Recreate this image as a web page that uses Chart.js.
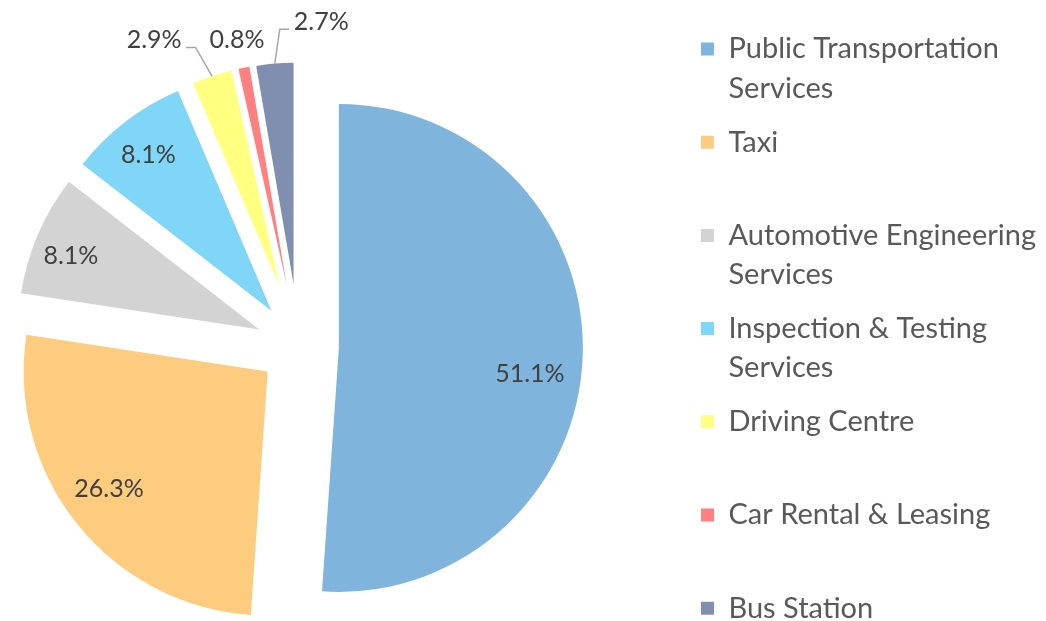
<!DOCTYPE html>
<html>
<head>
<meta charset="utf-8">
<script src="https://cdn.jsdelivr.net/npm/chart.js@4.4.1/dist/chart.umd.min.js"></script>
<style>
html, body { margin: 0; padding: 0; background: #ffffff; overflow: hidden; width: 1046px; height: 621px; }
#wrap { position: absolute; left: -89px; top: 0; width: 1135px; height: 693px; }
canvas { display: block; }
</style>
</head>
<body>
<div id="wrap"><canvas id="c" width="1135" height="693" style="width:1135px;height:693px"></canvas></div>
<script>
// ---- data ----
const categories = [
  'Public Transportation Services',
  'Taxi',
  'Automotive Engineering Services',
  'Inspection & Testing Services',
  'Driving Centre',
  'Car Rental & Leasing',
  'Bus Station'
];
const legendLines = [
  ['Public Transportation', 'Services'],
  ['Taxi', ''],
  ['Automotive Engineering', 'Services'],
  ['Inspection & Testing', 'Services'],
  ['Driving Centre', ''],
  ['Car Rental & Leasing', ''],
  'Bus Station'
];
const shares = [51.1, 26.3, 8.1, 8.1, 2.9, 0.8, 2.7];
const valueLabels = shares.map(v => v.toFixed(1) + '%');

// ---- style ----
const colors = ['#7FB5DD', '#FECC7F', '#D3D3D3', '#80D6F7', '#FFFF80', '#FF8080', '#808FB0'];
const explode = [40, 40, 43, 45, 63, 63, 63];            // slice pull-out (px)
const labelPlace = [[0.79, 5.7], [0.81, 2.1], [0.84, -1.8], [0.83, -0.7], [1.25, -9.2], [1.13, -0.3], [1.19, 10.9]];
const leader = [false, false, false, false, true, false, true];

const explodePlugin = {
  id: 'explodeSlices',
  afterDatasetUpdate(chart, args) {
    args.meta.data.forEach((arc, i) => {
      const d = explode[i] || 0;
      const mid = (arc.startAngle + arc.endAngle) / 2;
      arc.x += Math.cos(mid) * d;
      arc.y += Math.sin(mid) * d;
      arc.outerRadius -= d;
    });
  }
};

const labelPlugin = {
  id: 'sliceLabels',
  afterDatasetsDraw(chart) {
    const ctx = chart.ctx;
    const meta = chart.getDatasetMeta(0);
    ctx.save();
    ctx.font = '25px Lato';
    ctx.textAlign = 'center';
    ctx.textBaseline = 'middle';
    meta.data.forEach((arc, i) => {
      const f = labelPlace[i][0];
      const mid = (arc.startAngle + arc.endAngle) / 2;
      const a = mid + labelPlace[i][1] * Math.PI / 180;
      const lx = arc.x + Math.cos(a) * f * arc.outerRadius;
      const ly = arc.y + Math.sin(a) * f * arc.outerRadius;
      if (leader[i]) {
        const px = arc.x + Math.cos(mid) * arc.outerRadius;
        const py = arc.y + Math.sin(mid) * arc.outerRadius;
        const w = ctx.measureText(valueLabels[i]).width;
        const side = lx < px ? 1 : -1;
        const ex = lx + side * (w / 2 + 4.5);
        const ey = ly + 7;
        const bx = ex + side * 9.5;
        ctx.beginPath();
        ctx.moveTo(px, py);
        ctx.lineTo(bx, ey);
        ctx.lineTo(ex, ey);
        ctx.strokeStyle = '#A6A6A6';
        ctx.lineWidth = 1.5;
        ctx.stroke();
      }
      ctx.fillStyle = '#404040';
      ctx.fillText(valueLabels[i], lx, ly);
    });
    ctx.restore();
  }
};

function make() {
  new Chart(document.getElementById('c'), {
    type: 'pie',
    data: {
      labels: categories,
      datasets: [{
        data: shares,
        backgroundColor: colors,
        borderWidth: 0,
        radius: 284
      }]
    },
    options: {
      responsive: false,
      animation: false,
      events: [],
      layout: { padding: { left: 0, right: 0, top: 20.3, bottom: 20.3 } },
      plugins: {
        tooltip: { enabled: false },
        legend: {
          position: 'right',
          align: 'start',
          maxWidth: 360.7,
          labels: {
            boxWidth: 13,
            boxHeight: 13,
            padding: 14.2,
            color: '#595959',
            font: { family: 'Lato', size: 29, lineHeight: 39.5 / 29 },
            generateLabels() {
              return legendLines.map((t, i) => ({
                text: t,
                fillStyle: colors[i],
                strokeStyle: colors[i],
                lineWidth: 0,
                hidden: false,
                index: i,
                fontColor: '#595959'
              }));
            }
          }
        }
      }
    },
    plugins: [explodePlugin, labelPlugin]
  });
}
if (document.fonts && document.fonts.load) {
  document.fonts.load('29px Lato').then(make, make);
} else { make(); }
</script>
</body>
</html>
